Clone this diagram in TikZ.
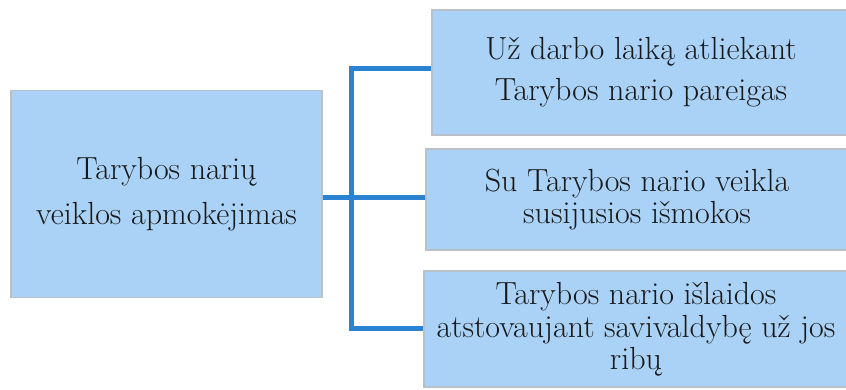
\documentclass[tikz,border=0pt]{standalone}
\definecolor{boxfill}{HTML}{A9D2F6}
\definecolor{boxedge}{HTML}{B8C0C8}
\definecolor{linkblue}{HTML}{2A82D2}
\begin{document}
\begin{tikzpicture}[x=1pt,y=-1pt,
  box/.style={draw=boxedge,line width=1.2pt,fill=boxfill,inner sep=0pt,align=center,
    font=\fontsize{32}{34}\selectfont,text=black!90},
  link/.style={draw=linkblue,line width=5pt}]
\useasboundingbox (0,0) rectangle (846,390);
\node[box,minimum width=311,minimum height=207] (main) at (166.5,194) {Tarybos narių\\[11pt]veiklos apmokėjimas};
\node[box,minimum width=418,minimum height=125] (a) at (641,72.5) {Už darbo laiką atliekant\\[7pt]Tarybos nario pareigas};
\node[box,minimum width=422,minimum height=101] (b) at (637,199.5) {Su Tarybos nario veikla\\[-2pt]susijusios išmokos};
\node[box,minimum width=424,minimum height=116] (c) at (636,329) {Tarybos nario išlaidos\\[-1pt]atstovaujant savivaldybę už jos\\[-2pt]ribų};
\coordinate (j) at (351,198);
\coordinate (jt) at (351,69);
\coordinate (jb) at (351,328);
\draw[link] (main.east |- j) -- (b.west |- j);
\draw[link] (jt) -- (jb);
\draw[link] ([xshift=-2.5pt]jt) -- (a.west |- jt);
\draw[link] ([xshift=-2.5pt]jb) -- (c.west |- jb);
\end{tikzpicture}
\end{document}
